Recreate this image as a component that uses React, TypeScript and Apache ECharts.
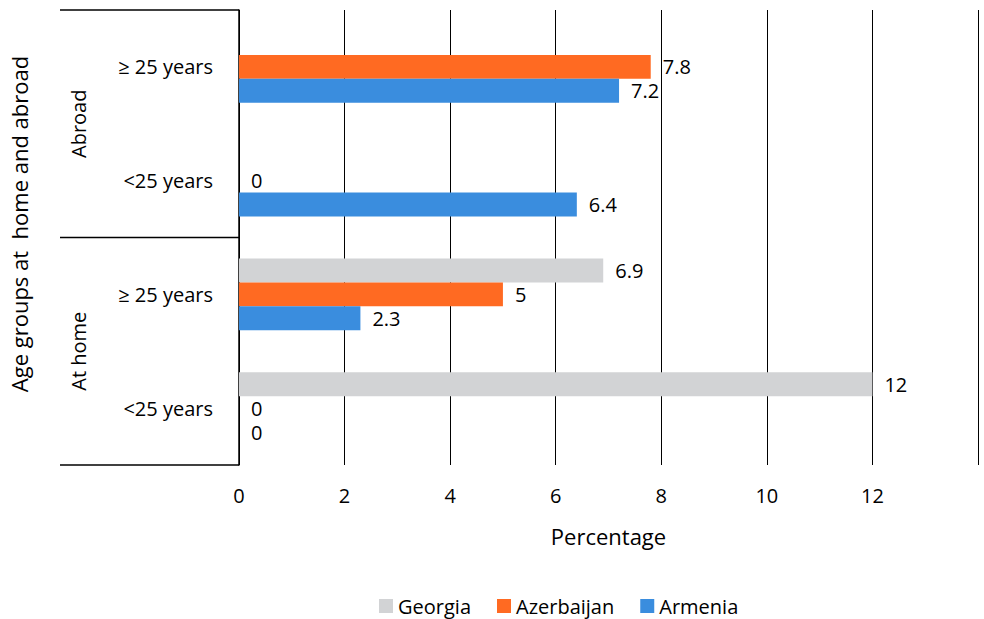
import React, { useEffect, useRef } from "react";
import * as echarts from "echarts";

// Category rows, top to bottom
const groups = ["Abroad", "Abroad", "At home", "At home"];
const ageLabels = ["≥ 25 years", "<25 years", "≥ 25 years", "<25 years"];

// Series values (percent); null = no data
const georgia: (number | null)[] = [null, null, 6.9, 12];
const azerbaijan: (number | null)[] = [7.8, 0, 5, 0];
const armenia: (number | null)[] = [7.2, 6.4, 2.3, 0];

const seriesNames = ["Georgia", "Azerbaijan", "Armenia"];
const seriesColors = ["#D2D3D5", "#FF6A22", "#3A8DDE"];

const xTicks = { min: 0, max: 14, interval: 2 };

const FONT = "'Open Sans', sans-serif";
const GRID = { left: 239, top: 10, right: 6, bottom: 154 };
const W = 984;
const H = 619;

export default function App() {
  const ref = useRef<HTMLDivElement>(null);

  useEffect(() => {
    if (!ref.current) return;
    const chart = echarts.init(ref.current, undefined, { renderer: "svg" });

    const categories = ageLabels.map((a, i) => `${groups[i]}|${a}`);
    const plotTop = GRID.top;
    const plotBottom = H - GRID.bottom;
    const band = (plotBottom - plotTop) / categories.length;

    // Group brackets left of the category axis
    const groupNames = Array.from(new Set(groups));
    const graphics: any[] = [];
    let start = 0;
    groupNames.forEach((g) => {
      const count = groups.filter((x) => x === g).length;
      const y0 = plotTop + start * band;
      const y1 = plotTop + (start + count) * band;
      graphics.push({
        type: "line",
        shape: { x1: 60, y1: y0, x2: GRID.left, y2: y0 },
        style: { stroke: "#000", lineWidth: 1.5 },
      });
      graphics.push({
        type: "text",
        x: 78,
        y: (y0 + y1) / 2,
        rotation: Math.PI / 2,
        style: {
          text: g,
          font: `20px ${FONT}`,
          fill: "#000",
          align: "center",
          verticalAlign: "middle",
        },
      });
      start += count;
    });
    graphics.push({
      type: "line",
      shape: { x1: 60, y1: plotBottom, x2: GRID.left, y2: plotBottom },
      style: { stroke: "#000", lineWidth: 1.5 },
    });
    graphics.push({
      type: "text",
      x: 19,
      y: 224,
      rotation: Math.PI / 2,
      style: {
        text: "Age groups at  home and abroad",
        font: `22px ${FONT}`,
        fill: "#000",
        align: "center",
        verticalAlign: "middle",
      },
    });

    const values = [georgia, azerbaijan, armenia];

    chart.setOption({
      animation: false,
      textStyle: { fontFamily: FONT },
      grid: GRID,
      legend: {
        data: seriesNames,
        left: 374,
        top: 590,
        itemWidth: 14,
        itemHeight: 14,
        itemGap: 26,
        icon: "rect",
        textStyle: { fontSize: 20, lineHeight: 22, color: "#000", fontFamily: FONT },
      },
      xAxis: {
        type: "value",
        min: xTicks.min,
        max: xTicks.max,
        interval: xTicks.interval,
        axisLine: { show: false },
        axisTick: { show: false },
        axisLabel: {
          showMaxLabel: false,
          fontSize: 20,
          color: "#000",
          margin: 20,
          fontFamily: FONT,
        },
        splitLine: { show: true, lineStyle: { color: "#000", width: 1 } },
        name: "Percentage",
        nameLocation: "middle",
        nameGap: 60,
        nameTextStyle: { fontSize: 22, color: "#000", fontFamily: FONT },
      },
      yAxis: {
        type: "category",
        inverse: true,
        data: categories,
        axisLine: { show: true, lineStyle: { color: "#000", width: 1.5 } },
        axisTick: { show: false },
        axisLabel: {
          fontSize: 20,
          color: "#000",
          margin: 26,
          fontFamily: FONT,
          formatter: (v: string) => v.split("|")[1],
        },
      },
      graphic: graphics,
      series: seriesNames.map((name, i) => ({
        name,
        type: "bar",
        data: values[i].map((v) => (v === null ? "-" : v)),
        barGap: "0%",
        barCategoryGap: "37%",
        itemStyle: { color: seriesColors[i] },
        label: {
          show: true,
          position: "right",
          distance: 12,
          fontSize: 20,
          lineHeight: 16,
          color: "#000",
          fontFamily: FONT,
        },
      })),
    });

    return () => chart.dispose();
  }, []);

  return (
    <div
      ref={ref}
      style={{ position: "absolute", left: 0, top: 0, width: W, height: H, background: "#fff" }}
    />
  );
}
